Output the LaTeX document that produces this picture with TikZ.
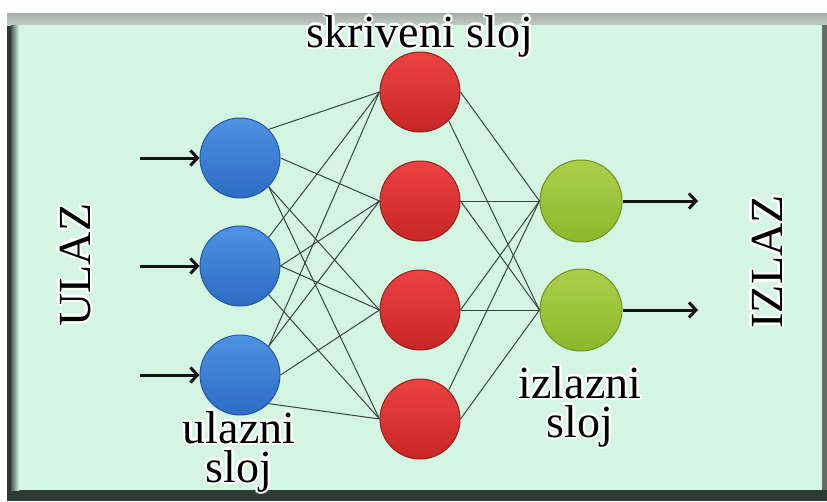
\documentclass[tikz,border=0pt]{standalone}
\usepackage{fontspec}
\setmainfont{Liberation Serif}
\usetikzlibrary{arrows.meta,calc}

\definecolor{mint}{RGB}{213,245,227}
\definecolor{framedark}{RGB}{46,59,53}
\definecolor{frametop}{RGB}{166,174,168}
\definecolor{framelow}{RGB}{190,204,196}
\definecolor{linkgray}{RGB}{55,68,62}
\definecolor{bluetop}{RGB}{78,146,226}
\definecolor{bluebot}{RGB}{44,108,196}
\definecolor{blueedge}{RGB}{38,88,160}
\definecolor{redtop}{RGB}{236,66,66}
\definecolor{redbot}{RGB}{200,38,38}
\definecolor{rededge}{RGB}{150,30,30}
\definecolor{greentop}{RGB}{172,206,74}
\definecolor{greenbot}{RGB}{140,184,42}
\definecolor{greenedge}{RGB}{108,146,30}

\tikzset{
  neuron/.style={circle, minimum size=80pt, inner sep=0pt, line width=1pt},
  inneuron/.style={neuron, draw=blueedge, top color=bluetop, bottom color=bluebot},
  hidneuron/.style={neuron, draw=rededge, top color=redtop, bottom color=redbot},
  outneuron/.style={neuron, minimum size=82pt, draw=greenedge, top color=greentop, bottom color=greenbot},
  link/.style={draw=linkgray, line width=1pt},
  signal/.style={draw=black!92, line width=3pt, -{Straight Barb[length=7pt,width=15pt,line width=3pt]}},
  lbl/.style={font=\fontsize{46}{39}\selectfont, inner sep=0pt, anchor=base, align=center, text=black},
}

% label with a soft white halo behind it
\newcommand\glowlabel[4]{%
  \foreach \ang in {0,45,...,315}
    \node[#3, text=white] at ($(#2)+(\ang:2.4)$) {#4};
  \node[#3] (#1) at (#2) {#4};%
}

\begin{document}
\begin{tikzpicture}[x=1pt, y=-1pt]
\useasboundingbox (0,0) rectangle (827,501);
\fill[white] (0,0) rectangle (827,501);

% panel with its shadowed frame
\fill[framedark] (7,13) rectangle (827,501);
\shade[top color=frametop, bottom color=framelow] (7,13) rectangle (827,25);
\shade[left color=framedark!85, right color=mint] (11,25) rectangle (19,490);
\fill[black!55!mint] (822,25) rectangle (827,490);
\fill[mint] (19,25) rectangle (822,490);

% neurons
\node[inneuron] (b1) at (240,158) {};
\node[inneuron] (b2) at (240,266) {};
\node[inneuron] (b3) at (240,375) {};

\node[hidneuron] (h1) at (420,92) {};
\node[hidneuron] (h2) at (420,201) {};
\node[hidneuron] (h3) at (420,310) {};
\node[hidneuron] (h4) at (420,419) {};

\node[outneuron] (o1) at (581,201) {};
\node[outneuron] (o2) at (581,310) {};

% input -> hidden connections
\foreach \s/\a/\t in {b1/north east/h1, b1/east/h2, b1/south east/h3, b1/south east/h4,
                      b2/north east/h1, b2/east/h2, b2/east/h3, b2/south east/h4,
                      b3/north east/h1, b3/north east/h2, b3/east/h3, b3/south east/h4}
  \draw[link] (\s.\a) -- (\t.west);

% hidden -> output connections
\foreach \s/\a/\t in {h1/east/o1, h1/south east/o2,
                      h2/east/o1, h2/east/o2,
                      h3/east/o1, h3/east/o2,
                      h4/north east/o1, h4/east/o2}
  \draw[link] (\s.\a) -- (\t.west);

% input and output signals
\coordinate (in1) at (140,158);
\coordinate (in2) at (140,266);
\coordinate (in3) at (140,375);
\coordinate (out1) at (698,201);
\coordinate (out2) at (698,310);
\draw[signal] (in1) -- (b1.west);
\draw[signal] (in2) -- (b2.west);
\draw[signal] (in3) -- (b3.west);
\draw[signal] (o1.east) -- (out1);
\draw[signal] (o2.east) -- (out2);

% labels (base anchor sits on the last line)
\glowlabel{hidden}{420,47}{lbl}{skriveni sloj}
\glowlabel{inlayer}{239,482}{lbl}{ulazni\\sloj}
\glowlabel{outlayer}{580,437}{lbl}{izlazni\\sloj}
\glowlabel{ulaz}{90,265}{lbl, rotate=90}{ULAZ}
\glowlabel{izlaz}{782,262}{lbl, rotate=90}{IZLAZ}
\end{tikzpicture}
\end{document}
